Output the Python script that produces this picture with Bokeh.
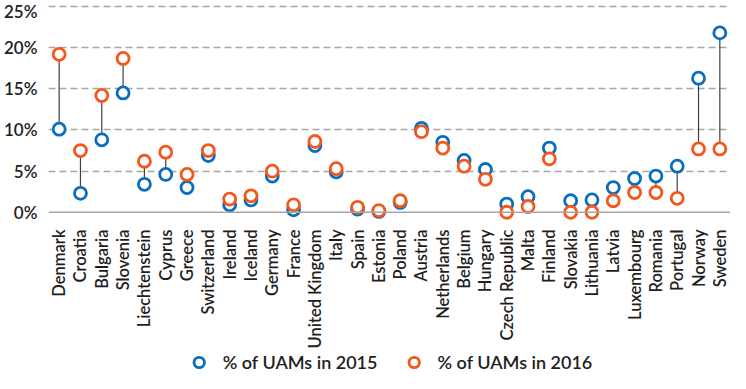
import numpy as np
from bokeh.plotting import figure
from bokeh.layouts import column
from bokeh.models import (ColumnDataSource, FactorRange, Range1d, Span, Legend, LegendItem,
                          FixedTicker, CustomJSTickFormatter)
from bokeh.embed import file_html
from bokeh.resources import INLINE

countries = ["Denmark", "Croatia", "Bulgaria", "Slovenia", "Liechtenstein", "Cyprus", "Greece",
             "Switzerland", "Ireland", "Iceland", "Germany", "France", "United Kingdom", "Italy",
             "Spain", "Estonia", "Poland", "Austria", "Netherlands", "Belgium", "Hungary",
             "Czech Republic", "Malta", "Finland", "Slovakia", "Lithuania", "Latvia", "Luxembourg",
             "Romania", "Portugal", "Norway", "Sweden"]
uam_2015 = [10.1, 2.3, 8.8, 14.5, 3.4, 4.6, 3.0, 6.9, 0.9, 1.5, 4.4, 0.3, 8.1, 4.9,
            0.4, 0.1, 1.2, 10.2, 8.5, 6.3, 5.2, 1.0, 1.9, 7.8, 1.4, 1.5, 3.0, 4.1,
            4.4, 5.6, 16.3, 21.8]
uam_2016 = [19.2, 7.5, 14.2, 18.7, 6.2, 7.3, 4.6, 7.5, 1.6, 2.0, 5.0, 0.9, 8.6, 5.3,
            0.6, 0.2, 1.4, 9.8, 7.8, 5.6, 4.0, 0.0, 0.7, 6.5, 0.0, 0.0, 1.4, 2.4,
            2.4, 1.7, 7.7, 7.7]
y_ticks = [0, 5, 10, 15, 20, 25]
series_labels = ["% of UAMs in 2015", "% of UAMs in 2016"]

BLUE = "#0A6EBD"
ORANGE = "#F4571C"
FONT = "Lato Semibold, Lato"
TEXT = "#1E1E1E"

src = ColumnDataSource(dict(country=countries, y15=uam_2015, y16=uam_2016))

p = figure(width=730, height=351,
           output_backend="svg", toolbar_location=None,
           x_range=FactorRange(factors=countries), y_range=Range1d(-1.0, 25.25),
           min_border_top=4, min_border_left=0, min_border_right=0, min_border_bottom=0)
p.outline_line_color = None
p.xgrid.grid_line_color = None
p.ygrid.grid_line_color = "#A6A6A6"
p.ygrid.grid_line_dash = "7 4"
p.ygrid.grid_line_width = 1.3
p.ygrid.ticker = FixedTicker(ticks=y_ticks[1:])

p.yaxis.ticker = FixedTicker(ticks=y_ticks)
p.yaxis.formatter = CustomJSTickFormatter(code="return tick + '%';")
p.yaxis.axis_line_color = None
p.yaxis.major_tick_line_color = None
p.yaxis.minor_tick_line_color = None
p.yaxis.major_label_text_font = FONT
p.yaxis.major_label_text_font_size = "17px"
p.yaxis.major_label_text_color = TEXT
p.yaxis.major_label_standoff = 5

p.xaxis.axis_line_color = None
p.xaxis.major_tick_line_color = None
p.xaxis.minor_tick_line_color = None
p.xaxis.major_label_orientation = np.pi / 2
p.xaxis.major_label_text_font = FONT
p.xaxis.major_label_text_font_size = "16.5px"
p.xaxis.major_label_text_color = TEXT
p.xaxis.major_label_standoff = 3

p.add_layout(Span(location=0, dimension="width", line_color="#A6A6A6", line_width=1.5))

p.segment(x0="country", y0="y15", x1="country", y1="y16", source=src,
          line_color="#404040", line_width=1.2)
p.scatter(x="country", y="y15", source=src, size=12, marker="circle",
          fill_color="white", line_color=BLUE, line_width=2.8)
p.scatter(x="country", y="y16", source=src, size=12, marker="circle",
          fill_color="white", line_color=ORANGE, line_width=2.8)

# legend strip below the chart (its renderers lie outside its visible range)
lf = figure(width=730, height=22, output_backend="svg", toolbar_location=None,
            min_border=0, x_range=FactorRange(factors=countries), y_range=Range1d(100, 101))
lf.axis.visible = False
lf.grid.visible = False
lf.outline_line_color = None
lg15 = lf.scatter(x="country", y="y15", source=src, size=9, marker="circle",
                  fill_color="white", line_color=BLUE, line_width=2.8)
lg16 = lf.scatter(x="country", y="y16", source=src, size=9, marker="circle",
                  fill_color="white", line_color=ORANGE, line_width=2.8)
legend = Legend(items=[LegendItem(label=series_labels[0], renderers=[lg15]),
                       LegendItem(label=series_labels[1], renderers=[lg16])],
                orientation="horizontal", location="center",
                label_text_font=FONT, label_text_font_size="18px", label_text_color=TEXT,
                border_line_color=None, background_fill_alpha=0,
                spacing=23, label_standoff=11, glyph_width=26, glyph_height=26,
                label_height=18, padding=0, margin=0)
lf.add_layout(legend, "center")

open("out.html", "w").write(file_html(column(p, lf, spacing=0), INLINE))
